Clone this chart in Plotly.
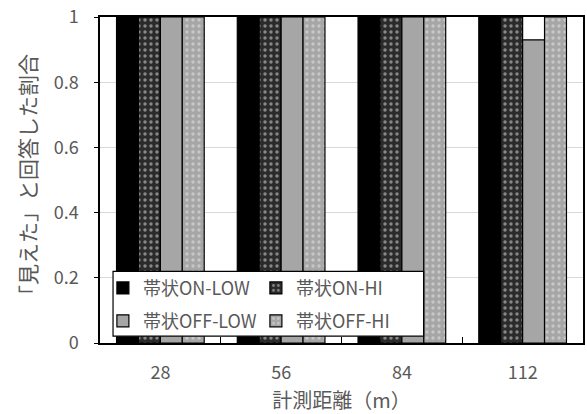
import plotly.graph_objects as go

# Measurement distances (m) and the share of "seen" answers per condition
distances = ["28", "56", "84", "112"]
on_low = [1, 1, 1, 1]
on_hi = [1, 1, 1, 1]
off_low = [1, 1, 1, 0.93]
off_hi = [1, 1, 1, 1]

series = [
    ("帯状ON-LOW", on_low, dict(color="#000000"), "legend"),
    ("帯状ON-HI", on_hi, dict(color="#2b2b2b",
                             pattern=dict(shape=".", bgcolor="#2b2b2b", fgcolor="#e6e6e6",
                                          size=6, solidity=0.25)), "legend"),
    ("帯状OFF-LOW", off_low, dict(color="#a6a6a6"), "legend2"),
    ("帯状OFF-HI", off_hi, dict(color="#a6a6a6",
                              pattern=dict(shape=".", bgcolor="#a6a6a6", fgcolor="#e8e8e8",
                                           size=6, solidity=0.25)), "legend2"),
]

FONT = "Noto Sans CJK JP"
GREY = "#595959"

fig = go.Figure()
for name, vals, mk, lg in series:
    mk = dict(mk, line=dict(color="#000000", width=1.2))
    fig.add_trace(go.Bar(x=distances, y=vals, name=name, marker=mk, legend=lg))

# white box behind the two legend rows
fig.add_shape(type="rect", xref="paper", yref="paper",
              x0=0.027, x1=0.670, y0=0.021, y1=0.220,
              fillcolor="white", line=dict(color="#000000", width=1.2), layer="above")

legend_common = dict(orientation="h", bgcolor="rgba(0,0,0,0)", borderwidth=0,
                     font=dict(family=FONT, size=18, color=GREY),
                     entrywidth=108, entrywidthmode="pixels",
                     xanchor="left", yanchor="middle", itemclick=False)

fig.update_layout(
    width=587, height=414,
    margin=dict(l=100, r=2, t=16, b=71),
    paper_bgcolor="white", plot_bgcolor="white",
    barmode="group", bargap=0.274, bargroupgap=0,
    font=dict(family=FONT, color=GREY),
    legend=dict(legend_common, x=0.006, y=0.168),
    legend2=dict(legend_common, x=0.006, y=0.067),
    xaxis=dict(
        type="category",
        showline=True, linecolor="#000000", linewidth=1.5, mirror=True,
        ticks="inside", tickson="boundaries", ticklen=6, tickcolor="#000000",
        ticklabelstandoff=13,
        tickfont=dict(family=FONT, size=18, color=GREY),
        title=dict(text="計測距離（m）", font=dict(family=FONT, size=20, color=GREY), standoff=11),
    ),
    yaxis=dict(
        range=[0, 1], dtick=0.2, tickformat="~g",
        showline=True, linecolor="#000000", linewidth=1.5, mirror=True,
        ticks="outside", ticklen=4, tickcolor="#000000",
        ticklabelstandoff=12,
        showgrid=True, gridcolor="#d9d9d9", gridwidth=1,
        tickfont=dict(family=FONT, size=18, color=GREY),
        title=dict(text="「見えた」と回答した割合", font=dict(family=FONT, size=21, color=GREY), standoff=11),
    ),
)

fig.write_html("out.html")
